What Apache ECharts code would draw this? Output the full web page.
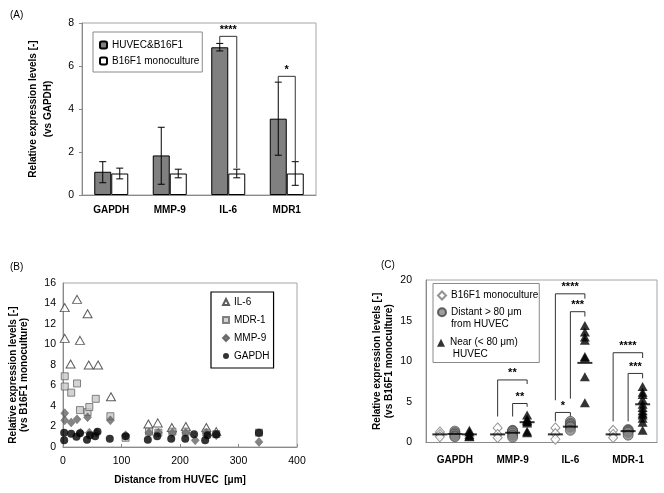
<!DOCTYPE html>
<html><head><meta charset="utf-8">
<script src="https://cdn.jsdelivr.net/npm/echarts@6/dist/echarts.min.js"></script>
<style>html,body{margin:0;padding:0;background:#fff}#c{width:664px;height:493px}</style>
</head><body><div id="c"></div>
<script>
// ---------- Panel A ----------
const genesA = ['GAPDH', 'MMP-9', 'IL-6', 'MDR1'];
const coMean = [1.08, 1.84, 6.87, 3.55];
const coLow = [0.57, 0.50, 6.70, 1.85];
const coHigh = [1.55, 3.15, 7.05, 5.25];
const monoMean = [1.0, 1.0, 1.0, 1.0];
const monoLow = [0.75, 0.80, 0.80, 0.45];
const monoHigh = [1.25, 1.20, 1.20, 1.55];
const sigACat = [2, 3];
const sigALeft = [7.05, 5.25];
const sigARight = [1.25, 1.55];
const sigATop = [7.38, 5.52];
const sigAMark = ['****', '*'];
const yTicksA = [0, 8, 2];

// ---------- Panel B ----------
const bIL6X = [3, 3, 13, 24, 29, 42, 44, 60, 82, 146, 162, 186, 210, 245, 262];
const bIL6Y = [13.6, 10.6, 8.1, 14.4, 10.4, 13.0, 8.0, 8.0, 4.9, 2.25, 2.35, 1.9, 2.0, 1.9, 1.5];
const bMDR1X = [3, 3, 14, 24, 29, 42, 45, 56, 81, 107, 147, 163, 187, 210, 245, 262, 335];
const bMDR1Y = [6.9, 5.9, 5.3, 6.2, 3.6, 3.4, 3.9, 4.7, 3.0, 0.9, 1.5, 1.4, 1.5, 1.5, 1.4, 1.25, 1.4];
const bMMP9X = [3, 3, 14, 24, 30, 42, 45, 57, 81, 107, 147, 163, 187, 210, 226, 245, 262, 335];
const bMMP9Y = [3.3, 2.6, 2.4, 2.7, 1.4, 2.9, 1.4, 1.4, 2.6, 1.15, 1.4, 1.4, 1.4, 1.4, 0.65, 1.4, 1.15, 0.5];
const bGAPDHX = [2, 2, 14, 23, 29, 41, 46, 55, 59, 80, 107, 145, 161, 185, 209, 224, 243, 247, 262, 335];
const bGAPDHY = [0.65, 1.4, 1.3, 1.0, 1.35, 0.7, 1.15, 1.05, 1.5, 0.8, 1.05, 0.7, 1.05, 0.8, 0.8, 1.25, 0.65, 1.15, 1.25, 1.4];
const xTicksB = [0, 400, 100];
const yTicksB = [0, 16, 2];

// ---------- Panel C ----------
const genesC = ['GAPDH', 'MMP-9', 'IL-6', 'MDR-1'];
const cMono = [[1.3, 1.0, 0.7], [1.8, 1.0, 0.6], [1.8, 1.1, 0.4], [1.5, 1.0, 0.6]];
const cDistant = [[1.4, 1.2, 1.0, 0.8, 0.7], [1.5, 1.4, 1.4, 1.15, 0.9, 0.65], [2.6, 2.35, 2.2, 2.0, 1.9, 1.5], [1.6, 1.5, 1.4, 1.25, 0.9]];
const cNear = [[1.5, 1.3, 1.0, 0.8, 0.7], [3.4, 2.9, 2.7, 2.6, 2.4, 1.4, 1.2], [14.4, 13.6, 13.0, 12.6, 10.6, 10.4, 8.1, 4.9], [6.9, 6.2, 5.9, 5.3, 4.7, 4.3, 3.9, 3.6, 3.4, 3.0, 2.5, 1.5]];
const cMonoMean = [1.0, 1.0, 1.0, 1.0];
const cDistMean = [1.05, 1.2, 1.95, 1.4];
const cNearMean = [1.0, 2.5, 9.8, 4.7];
const sigCCat = [1, 1, 2, 2, 2, 3, 3];
const sigCFrom = [0, 1, 0, 1, 0, 0, 1];
const sigCTo = [2, 2, 2, 2, 1, 2, 2];
const sigCLeft = [3.2, 3.2, 5.2, 5.4, 2.6, 2.6, 2.6];
const sigCRight = [7.2, 4.4, 17.7, 15.5, 3.2, 10.4, 7.9];
const sigCTop = [7.7, 4.8, 18.3, 16.1, 3.7, 11.05, 8.5];
const sigCMark = ['**', '**', '****', '***', '*', '****', '***'];
const yTicksC = [0, 20, 5];

// ---------- styles ----------
const FONT = '"Liberation Sans", Arial, sans-serif';
const AX = '#8a8a8a';
const GRIDB = '#a6a6a6';
const groupOffC = [-15, 0, 14.5];
const barOffA = [-8.5, 8.5];

const chart = echarts.init(document.getElementById('c'), null, {renderer: 'canvas'});

function errRender(off) {
  return function (params, api) {
    const lo = api.coord([api.value(0), api.value(1)]);
    const hi = api.coord([api.value(0), api.value(2)]);
    const cx = lo[0] + off, cap = 3.5;
    const st = {stroke: '#000', lineWidth: 1};
    return {type: 'group', children: [
      {type: 'line', shape: {x1: cx, y1: lo[1], x2: cx, y2: hi[1]}, style: st},
      {type: 'line', shape: {x1: cx - cap, y1: lo[1], x2: cx + cap, y2: lo[1]}, style: st},
      {type: 'line', shape: {x1: cx - cap, y1: hi[1], x2: cx + cap, y2: hi[1]}, style: st}
    ]};
  };
}

function bracket(x1, yl, x2, yr, yt, mark) {
  const st = {stroke: '#333', lineWidth: 1, fill: null};
  return {type: 'group', children: [
    {type: 'polyline', shape: {points: [[x1, yl], [x1, yt], [x2, yt], [x2, yr]]}, style: st},
    {type: 'text', style: {text: mark, x: (x1 + x2) / 2, y: yt - 1, align: 'center', verticalAlign: 'bottom',
      font: 'bold 11px ' + FONT, fill: '#000'}}
  ]};
}

const axisNameStyle = {fontFamily: FONT, fontWeight: 'bold', fontSize: 10, color: '#000'};
const tickLabel = {fontFamily: FONT, fontSize: 10.5, color: '#000'};

const option = {
  animation: false,
  backgroundColor: '#fff',
  textStyle: {fontFamily: FONT},
  title: [
    {text: '(A)', left: 5, top: 5, textStyle: {fontFamily: FONT, fontSize: 10, fontWeight: 'normal', color: '#000'}},
    {text: '(B)', left: 5, top: 257, textStyle: {fontFamily: FONT, fontSize: 10, fontWeight: 'normal', color: '#000'}},
    {text: '(C)', left: 376, top: 255, textStyle: {fontFamily: FONT, fontSize: 10, fontWeight: 'normal', color: '#000'}}
  ],
  grid: [
    {left: 82, top: 23, width: 234, height: 172, show: true, borderColor: GRIDB, borderWidth: 1, backgroundColor: 'transparent'},
    {left: 63, top: 283, width: 234, height: 164, show: true, borderColor: GRIDB, borderWidth: 1, backgroundColor: 'transparent'},
    {left: 426, top: 280, width: 231, height: 162.5, show: true, borderColor: GRIDB, borderWidth: 1, backgroundColor: 'transparent'}
  ],
  legend: [
    {data: ['HUVEC&B16F1', 'B16F1 monoculture'], orient: 'vertical', left: 93, top: 32,
      itemWidth: 7, itemHeight: 7, itemGap: 4, padding: [7, 3, 5, 6], borderColor: '#8a8a8a', borderWidth: 1,
      selectedMode: false, textStyle: {fontFamily: FONT, fontSize: 10, color: '#000', lineHeight: 12}},
    {data: ['IL-6', 'MDR-1', 'MMP-9', 'GAPDH'], orient: 'vertical', left: 211, top: 292,
      itemWidth: 6, itemHeight: 6, itemGap: 6, padding: [4, 4, 6, 11], borderColor: '#000', borderWidth: 1.2,
      selectedMode: false, textStyle: {fontFamily: FONT, fontSize: 10, color: '#000', lineHeight: 12}},
    {data: ['c_mono'], orient: 'vertical', left: 433, top: 283.5,
      itemWidth: 8, itemHeight: 8, padding: [6, 1, 61, 4], borderColor: '#8a8a8a', borderWidth: 1,
      selectedMode: false, formatter: () => 'B16F1 monoculture',
      textStyle: {fontFamily: FONT, fontSize: 10, color: '#000', lineHeight: 12}},
    {data: ['c_dist'], orient: 'vertical', left: 437, top: 294.3, padding: 0,
      itemWidth: 8, itemHeight: 8, selectedMode: false, formatter: () => ' \nDistant > 80 μm\nfrom HUVEC',
      textStyle: {fontFamily: FONT, fontSize: 10, color: '#000', lineHeight: 12}},
    {data: ['c_near'], orient: 'vertical', left: 437, top: 324.7, padding: 0,
      itemWidth: 8, itemHeight: 8, selectedMode: false, formatter: () => ' \nNear (< 80 μm)\n HUVEC',
      textStyle: {fontFamily: FONT, fontSize: 10, color: '#000', lineHeight: 12}}
  ],
  xAxis: [
    {gridIndex: 0, type: 'category', data: genesA, axisLine: {lineStyle: {color: AX}},
      axisTick: {inside: true, length: 3, lineStyle: {color: AX}},
      axisLabel: {fontFamily: FONT, fontWeight: 'bold', fontSize: 10, color: '#000', margin: 10}},
    {gridIndex: 1, type: 'value', min: xTicksB[0], max: xTicksB[1], interval: xTicksB[2], splitLine: {show: false},
      axisLine: {show: true, onZero: false, lineStyle: {color: AX}},
      axisTick: {show: true, inside: true, length: 3, lineStyle: {color: AX}},
      axisLabel: Object.assign({margin: 9}, tickLabel),
      name: 'Distance from HUVEC  [μm]', nameLocation: 'middle', nameGap: 28, nameTextStyle: axisNameStyle},
    {gridIndex: 2, type: 'category', data: genesC, axisLine: {lineStyle: {color: AX}},
      axisTick: {inside: true, length: 3, lineStyle: {color: AX}},
      axisLabel: {fontFamily: FONT, fontWeight: 'bold', fontSize: 10, color: '#000', margin: 13}}
  ],
  yAxis: [
    {gridIndex: 0, type: 'value', min: yTicksA[0], max: yTicksA[1], interval: yTicksA[2], splitLine: {show: false},
      axisLine: {show: true, lineStyle: {color: AX}}, axisTick: {show: true, length: 3, lineStyle: {color: AX}},
      axisLabel: Object.assign({margin: 8}, tickLabel),
      name: 'Relative expression levels [-]\n(vs GAPDH)', nameLocation: 'middle', nameRotate: 90, nameGap: 26,
      nameTextStyle: Object.assign({lineHeight: 15}, axisNameStyle)},
    {gridIndex: 1, type: 'value', min: yTicksB[0], max: yTicksB[1], interval: yTicksB[2], splitLine: {show: false},
      axisLine: {show: true, onZero: false, lineStyle: {color: AX}}, axisTick: {show: false},
      axisLabel: Object.assign({margin: 7}, tickLabel),
      name: 'Relative expression levels [-]\n(vs B16F1 monoculture)', nameLocation: 'middle', nameRotate: 90, nameGap: 33,
      nameTextStyle: Object.assign({lineHeight: 11, padding: [0, 20, 0, 0]}, axisNameStyle)},
    {gridIndex: 2, type: 'value', min: yTicksC[0], max: yTicksC[1], interval: yTicksC[2], splitLine: {show: false},
      axisLine: {show: true, lineStyle: {color: AX}}, axisTick: {show: false},
      axisLabel: Object.assign({margin: 14}, tickLabel),
      name: 'Relative expression levels [-]\n(vs B16F1 monoculture)', nameLocation: 'middle', nameRotate: 90, nameGap: 31,
      nameTextStyle: Object.assign({lineHeight: 12}, axisNameStyle)}
  ],
  series: [
    // Panel A bars
    {name: 'HUVEC&B16F1', type: 'bar', xAxisIndex: 0, yAxisIndex: 0, data: coMean, barWidth: 17, barGap: '0%',
      itemStyle: {color: '#808080', borderColor: '#000', borderWidth: 1}},
    {name: 'B16F1 monoculture', type: 'bar', xAxisIndex: 0, yAxisIndex: 0, data: monoMean, barWidth: 17, barGap: '0%',
      itemStyle: {color: '#fff', borderColor: '#000', borderWidth: 1}},
    {type: 'custom', xAxisIndex: 0, yAxisIndex: 0, z: 5, renderItem: errRender(barOffA[0]),
      encode: {x: 0, y: [1, 2]}, data: genesA.map((g, i) => [i, coLow[i], coHigh[i]])},
    {type: 'custom', xAxisIndex: 0, yAxisIndex: 0, z: 5, renderItem: errRender(barOffA[1]),
      encode: {x: 0, y: [1, 2]}, data: genesA.map((g, i) => [i, monoLow[i], monoHigh[i]])},
    {type: 'custom', xAxisIndex: 0, yAxisIndex: 0, z: 6, clip: false,
      encode: {x: 0, y: [1, 2, 3]},
      data: sigACat.map((c, i) => [c, sigALeft[i], sigARight[i], sigATop[i]]),
      renderItem: function (params, api) {
        const c = api.value(0);
        const pl = api.coord([c, api.value(1)]), pr = api.coord([c, api.value(2)]), pt = api.coord([c, api.value(3)]);
        return bracket(pl[0] + barOffA[0], pl[1], pr[0] + barOffA[1], pr[1], pt[1], sigAMark[params.dataIndex]);
      }},
    // Panel B scatter
    {name: 'IL-6', type: 'scatter', xAxisIndex: 1, yAxisIndex: 1, symbol: 'triangle', symbolSize: [9, 8],
      itemStyle: {color: '#fff', borderColor: '#333', borderWidth: 1}, z: 3,
      data: bIL6X.map((x, i) => [x, bIL6Y[i]])},
    {name: 'MDR-1', type: 'scatter', xAxisIndex: 1, yAxisIndex: 1, symbol: 'rect', symbolSize: 7,
      itemStyle: {color: '#c8c8c8', borderColor: '#666', borderWidth: 1}, z: 4,
      data: bMDR1X.map((x, i) => [x, bMDR1Y[i]])},
    {name: 'MMP-9', type: 'scatter', xAxisIndex: 1, yAxisIndex: 1, symbol: 'diamond', symbolSize: [8, 9],
      itemStyle: {color: '#646464', borderColor: '#555', borderWidth: 0.5}, z: 5,
      data: bMMP9X.map((x, i) => [x, bMMP9Y[i]])},
    {name: 'GAPDH', type: 'scatter', xAxisIndex: 1, yAxisIndex: 1, symbol: 'circle', symbolSize: 8,
      itemStyle: {color: '#000'}, z: 6,
      data: bGAPDHX.map((x, i) => [x, bGAPDHY[i]])},
    // Panel C scatter
    {name: 'c_mono', type: 'scatter', xAxisIndex: 2, yAxisIndex: 2, symbol: 'diamond', symbolSize: [9, 10],
      symbolOffset: [groupOffC[0], 0], itemStyle: {color: '#fff', borderColor: '#777', borderWidth: 1}, z: 3,
      data: cMono.flatMap((arr, i) => arr.map(v => [i, v]))},
    {name: 'c_dist', type: 'scatter', xAxisIndex: 2, yAxisIndex: 2, symbol: 'circle', symbolSize: 10,
      symbolOffset: [groupOffC[1], 0], itemStyle: {color: '#858585', borderColor: '#444', borderWidth: 0.8}, z: 3,
      data: cDistant.flatMap((arr, i) => arr.map(v => [i, v]))},
    {name: 'c_near', type: 'scatter', xAxisIndex: 2, yAxisIndex: 2, symbol: 'triangle', symbolSize: [10, 9],
      symbolOffset: [groupOffC[2], 0], itemStyle: {color: '#000'}, z: 3,
      data: cNear.flatMap((arr, i) => arr.map(v => [i, v]))},
    {type: 'scatter', xAxisIndex: 2, yAxisIndex: 2, symbol: 'rect', symbolSize: [15, 2], symbolOffset: [groupOffC[0], 0],
      itemStyle: {color: '#000'}, z: 7, data: cMonoMean.map((v, i) => [i, v])},
    {type: 'scatter', xAxisIndex: 2, yAxisIndex: 2, symbol: 'rect', symbolSize: [15, 2], symbolOffset: [groupOffC[1], 0],
      itemStyle: {color: '#000'}, z: 7, data: cDistMean.map((v, i) => [i, v])},
    {type: 'scatter', xAxisIndex: 2, yAxisIndex: 2, symbol: 'rect', symbolSize: [15, 2], symbolOffset: [groupOffC[2], 0],
      itemStyle: {color: '#000'}, z: 7, data: cNearMean.map((v, i) => [i, v])},
    {type: 'custom', xAxisIndex: 2, yAxisIndex: 2, z: 8, clip: false,
      encode: {x: 0, y: [1, 2, 3]},
      data: sigCCat.map((c, i) => [c, sigCLeft[i], sigCRight[i], sigCTop[i]]),
      renderItem: function (params, api) {
        const k = params.dataIndex, c = api.value(0);
        const pl = api.coord([c, api.value(1)]), pr = api.coord([c, api.value(2)]), pt = api.coord([c, api.value(3)]);
        return bracket(pl[0] + groupOffC[sigCFrom[k]], pl[1], pr[0] + groupOffC[sigCTo[k]], pr[1], pt[1], sigCMark[k]);
      }}
  ]
};
chart.setOption(option);
</script>
</body></html>
